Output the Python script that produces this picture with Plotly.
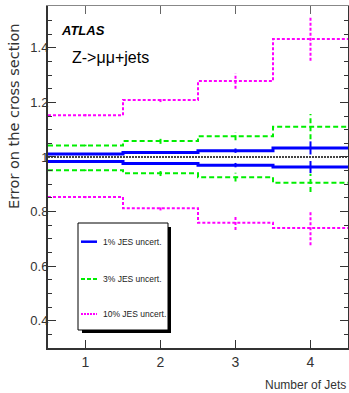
import plotly.graph_objects as go

# ---------------- data ----------------
edges = [0.5, 1.5, 2.5, 3.5, 4.5]
centers = [1, 2, 3, 4]
x_ticks = [1, 2, 3, 4]

blue_up = [1.011, 1.016, 1.023, 1.033]
blue_dn = [0.983, 0.976, 0.970, 0.963]
blue_up_err = [0.003, 0.004, 0.008, 0.024]
blue_dn_err = [0.003, 0.004, 0.008, 0.022]

green_up = [1.042, 1.058, 1.076, 1.111]
green_dn = [0.951, 0.940, 0.926, 0.905]
green_up_err = [0.003, 0.010, 0.015, 0.046]
green_dn_err = [0.003, 0.010, 0.016, 0.033]

mag_up = [1.153, 1.209, 1.278, 1.432]
mag_dn = [0.853, 0.812, 0.759, 0.740]
mag_up_err = [0.004, 0.008, 0.028, 0.080]
mag_dn_err = [0.004, 0.008, 0.027, 0.064]

reference = 1.0
legend_labels = ["1% JES uncert.", "3% JES uncert.", "10% JES uncert."]

# ---------------- styles ----------------
BLUE = "#0000ff"
GREEN = "#00ee00"
MAG = "#ff00ff"
NARROW = "Liberation Sans Narrow, Arial Narrow, Liberation Sans, Arial, sans-serif"
REG = "Liberation Sans, Arial, Helvetica, sans-serif"
TXT = "#333333"

W, H = 349, 393
L, R, T, B = 48, 348, 6, 348


def px(x):
    return (x - L) / (R - L)


def py(y):
    return (B - y) / (B - T)


def step_xy(vals):
    return edges, list(vals) + [vals[-1]]


def err_xy(vals, errs):
    xs, ys = [], []
    for c, v, e in zip(centers, vals, errs):
        xs += [c, c, None]
        ys += [v - e, v + e, None]
    return xs, ys


fig = go.Figure()

# reference line at 1
fig.add_trace(go.Scatter(x=[edges[0], edges[-1]], y=[reference, reference], mode="lines",
                         line=dict(color="#444444", width=2, dash="2px,1px"),
                         showlegend=False, hoverinfo="skip"))

series = [
    (blue_up, blue_up_err, BLUE, 3, "solid"),
    (blue_dn, blue_dn_err, BLUE, 3, "solid"),
    (green_up, green_up_err, GREEN, 2, "5px,3px"),
    (green_dn, green_dn_err, GREEN, 2, "5px,3px"),
    (mag_up, mag_up_err, MAG, 2, "3px,2px"),
    (mag_dn, mag_dn_err, MAG, 2, "3px,2px"),
]
for vals, errs, col, w, dash in series:
    sx, sy = step_xy(vals)
    fig.add_trace(go.Scatter(x=sx, y=sy, mode="lines", line_shape="hv",
                             line=dict(color=col, width=w, dash=dash),
                             showlegend=False, hoverinfo="skip"))
    ex, ey = err_xy(vals, errs)
    fig.add_trace(go.Scatter(x=ex, y=ey, mode="lines",
                             line=dict(color=col, width=2, dash=dash if w != 3 else "solid"),
                             showlegend=False, hoverinfo="skip"))

# dummy trace for top/right axes
fig.add_trace(go.Scatter(x=[edges[0]], y=[reference], xaxis="x2", yaxis="y2", mode="markers",
                         marker=dict(opacity=0), showlegend=False, hoverinfo="skip"))

yr = [0.300, 1.553]
xr = [edges[0], edges[-1]]

fig.update_layout(
    width=W, height=H,
    margin=dict(l=L, r=W - R, t=T, b=H - B),
    paper_bgcolor="white", plot_bgcolor="white",
    showlegend=False,
    xaxis=dict(range=xr, tickvals=x_ticks, ticks="inside", ticklen=8, tickwidth=1,
               tickcolor=TXT, showline=True, linewidth=2, linecolor=TXT,
               showgrid=False, zeroline=False,
               tickfont=dict(family=NARROW, size=14, color=TXT)),
    xaxis2=dict(range=xr, overlaying="x", side="top", tickvals=x_ticks, ticks="inside",
                ticklen=8, tickwidth=1, tickcolor="#666", showline=True, linewidth=1,
                linecolor="#888", showticklabels=False, showgrid=False, zeroline=False),
    yaxis=dict(range=yr, tickmode="linear", tick0=0.4, dtick=0.2, ticks="inside",
               ticklen=8, tickwidth=1, tickcolor=TXT, showline=True, linewidth=2,
               linecolor=TXT, showgrid=False, zeroline=False, ticklabelstandoff=-5,
               minor=dict(dtick=0.05, tick0=0.4, ticks="inside", ticklen=4, tickcolor=TXT, showgrid=False),
               tickfont=dict(family=NARROW, size=13, color=TXT)),
    yaxis2=dict(range=yr, overlaying="y", side="right", tickmode="linear", tick0=0.4,
                dtick=0.2, ticks="inside", ticklen=8, tickwidth=1, tickcolor=TXT,
                showline=True, linewidth=1.5, linecolor=TXT, showticklabels=False,
                showgrid=False, zeroline=False,
                minor=dict(dtick=0.05, tick0=0.4, ticks="inside", ticklen=4, tickcolor=TXT, showgrid=False)),
)

ann = []
ann.append(dict(x=px(14), y=py(117), xref="paper", yref="paper", text="Error on the cross section",
                textangle=-90, showarrow=False, xanchor="center", yanchor="middle",
                font=dict(family="DejaVu Sans, sans-serif", size=14.5, color=TXT)))
ann.append(dict(x=px(348), y=py(385), xref="paper", yref="paper", text="Number of Jets",
                showarrow=False, xanchor="right", yanchor="middle",
                font=dict(family=NARROW, size=12, color=TXT)))
ann.append(dict(x=px(59), y=py(30), xref="paper", yref="paper", text="<b><i>ATLAS</i></b>",
                showarrow=False, xanchor="left", yanchor="middle",
                font=dict(family=NARROW, size=13, color="black")))
ann.append(dict(x=px(70), y=py(57), xref="paper", yref="paper", text="Z-&gt;μμ+jets",
                showarrow=False, xanchor="left", yanchor="middle",
                font=dict(family=REG, size=16, color="black")))

shapes = []
# legend shadow and box
shapes.append(dict(type="rect", xref="paper", yref="paper", x0=px(82), x1=px(171), y0=py(333), y1=py(227),
                   fillcolor="black", line=dict(width=0), layer="above"))
shapes.append(dict(type="rect", xref="paper", yref="paper", x0=px(78), x1=px(168), y0=py(330), y1=py(223),
                   fillcolor="white", line=dict(color="black", width=1), layer="above"))
leg_y = [241.7, 279, 314]
leg_style = [(BLUE, 2.5, "solid"), (GREEN, 2, "4px,2px"), (MAG, 2, "2px,1px")]
for yy, (col, w, dash), lab in zip(leg_y, leg_style, legend_labels):
    shapes.append(dict(type="line", xref="paper", yref="paper", x0=px(81), x1=px(97), y0=py(yy), y1=py(yy),
                       line=dict(color=col, width=w, dash=dash), layer="above"))
    ann.append(dict(x=px(101), y=py(yy), xref="paper", yref="paper", text=lab, showarrow=False,
                    xanchor="left", yanchor="middle", font=dict(family=NARROW, size=8.5, color="#222")))

fig.update_layout(annotations=ann, shapes=shapes)
fig.write_html("out.html", config={"displayModeBar": False},
               post_script="document.body.style.margin='0';")
